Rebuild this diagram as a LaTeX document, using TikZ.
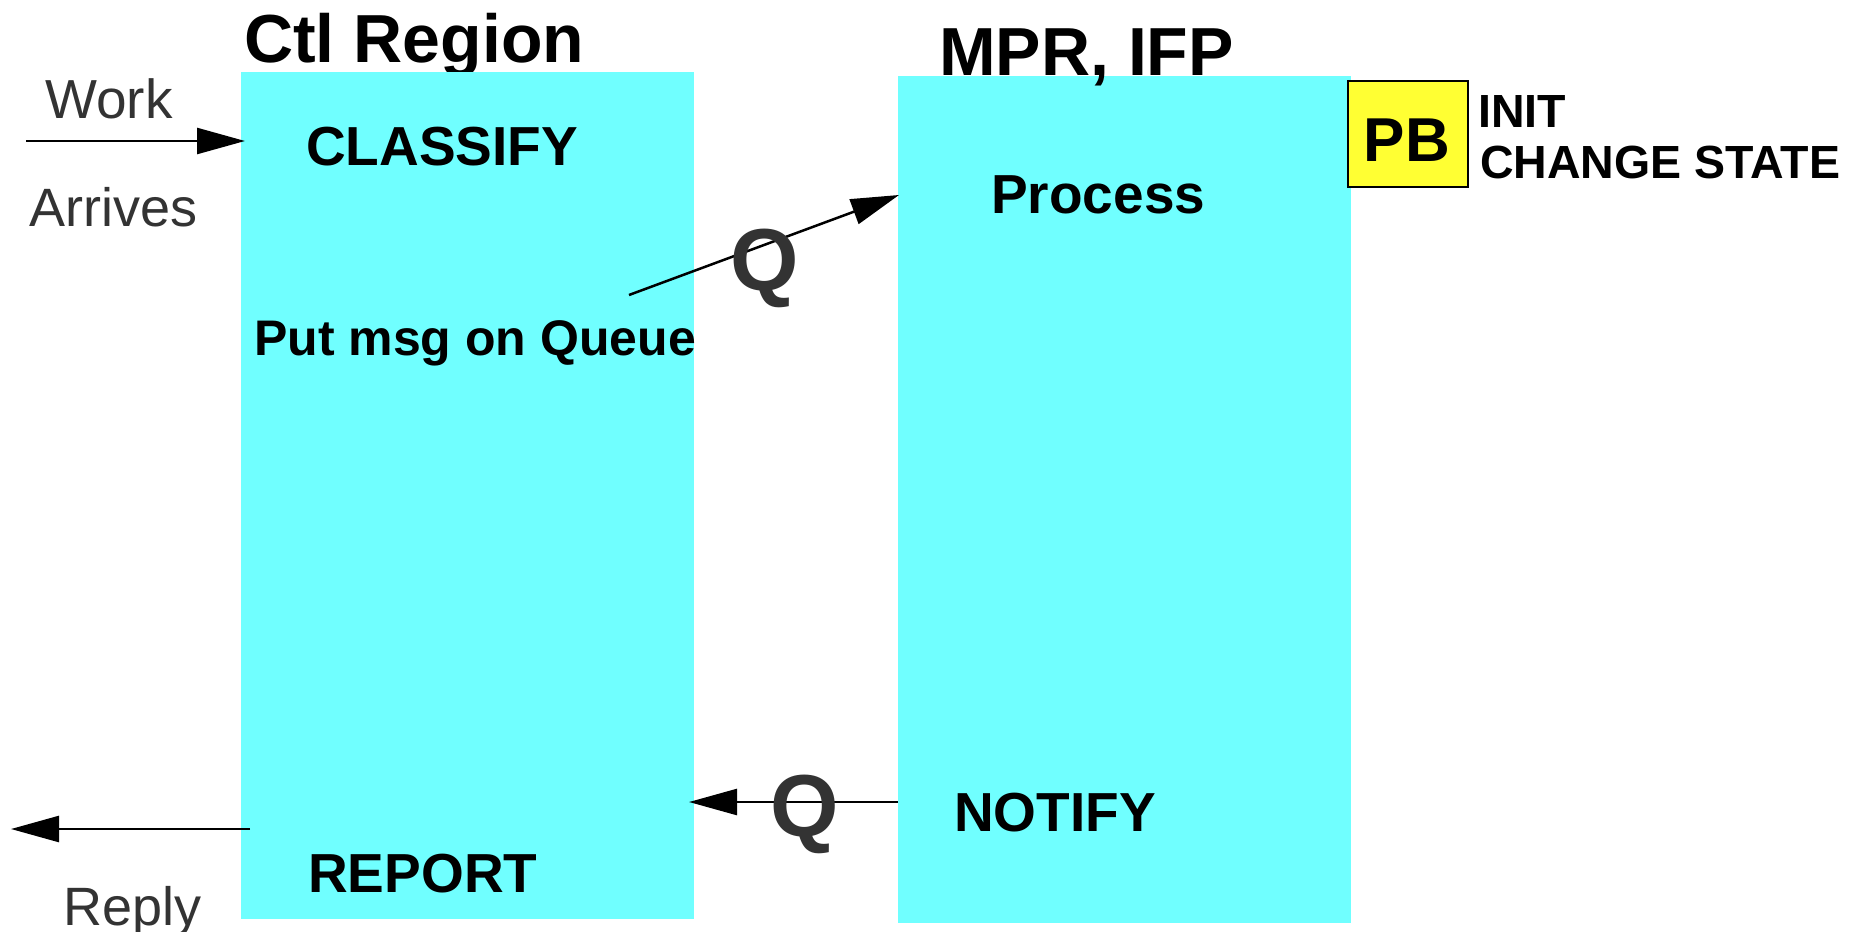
\documentclass[tikz,border=0pt]{standalone}
\usepackage{fontspec}
\setmainfont{Liberation Sans}
\usetikzlibrary{arrows.meta}
\definecolor{regioncyan}{RGB}{112,255,255}
\definecolor{pbyellow}{RGB}{255,255,51}
\definecolor{softblack}{RGB}{51,51,51}
\tikzset{
  region/.style={draw=none, fill=regioncyan, inner sep=0pt, anchor=north west},
  title/.style={inner sep=0pt, anchor=base west, font=\fontsize{68}{80}\selectfont\bfseries},
  stepname/.style={inner sep=0pt, anchor=base west, font=\fontsize{55}{64}\selectfont\bfseries},
  outside/.style={inner sep=0pt, anchor=base west, text=softblack, font=\fontsize{55}{64}\selectfont},
  queue/.style={inner sep=0pt, anchor=base, text=softblack, font=\fontsize{88}{100}\selectfont\bfseries},
  side/.style={inner sep=0pt, anchor=base west, font=\fontsize{46.5}{54}\selectfont\bfseries},
  arr/.style={line width=2.5pt, -{Triangle[length=48pt, width=26pt]}},
}
\begin{document}
\begin{tikzpicture}[x=1pt, y=-1pt]
\useasboundingbox (0,0) rectangle (1870,931);

% Region titles and boxes (the left box hides the descender of its title)
\node[title] (ctltitle) at (244,63) {Ctl Region};
\node[region, minimum width=453pt, minimum height=847pt] (ctlbox) at (241,72) {};
\node[region, minimum width=453pt, minimum height=847pt] (mprbox) at (898,76) {};
\node[title] (mprtitle) at (939,76) {MPR, IFP};

% Program-block marker
\node[draw=black, line width=2pt, fill=pbyellow, minimum width=120pt, minimum height=106pt,
      inner sep=0pt, anchor=north west] (pbbox) at (1347,80) {};
\node[inner sep=0pt, anchor=base, font=\fontsize{62}{70}\selectfont\bfseries] (pb) at (1407,161) {PB};
\node[side] (init) at (1478,128) {INIT};
\node[side] (chg) at (1480,178) {CHANGE STATE};

% Steps in each region
\node[stepname] (classify) at (306,165) {CLASSIFY};
\node[stepname, font=\fontsize{50}{60}\selectfont\bfseries] (put) at (254,355) {Put msg on Queue};
\node[stepname] (report) at (308,892) {REPORT};
\node[stepname] (process) at (991,213) {Process};
\node[stepname] (notify) at (954,831) {NOTIFY};

% Outside labels
\node[outside] (work) at (45,118) {Work};
\node[outside, font=\fontsize{54}{64}\selectfont] (arrives) at (29,226) {Arrives};
\node[outside, font=\fontsize{54}{64}\selectfont] (reply) at (63,925) {Reply};

% Connector end points
\coordinate (workstart) at (26,141);
\coordinate (workend) at (245,141);
\coordinate (qstart) at (629,295);
\coordinate (qend) at (899,195);
\coordinate (nstart) at (898,802);
\coordinate (nend) at (689,802);
\coordinate (rstart) at (250,829);
\coordinate (rend) at (11,829);

% Flows
\draw[arr] (workstart) -- (workend);
\draw[arr] (qstart) -- (qend);
\draw[arr] (nstart) -- (nend);
\draw[arr] (rstart) -- (rend);

% Queue labels
\node[queue] (qup) at (765,290) {Q};
\node[queue] (qdown) at (805,836) {Q};
\end{tikzpicture}
\end{document}
